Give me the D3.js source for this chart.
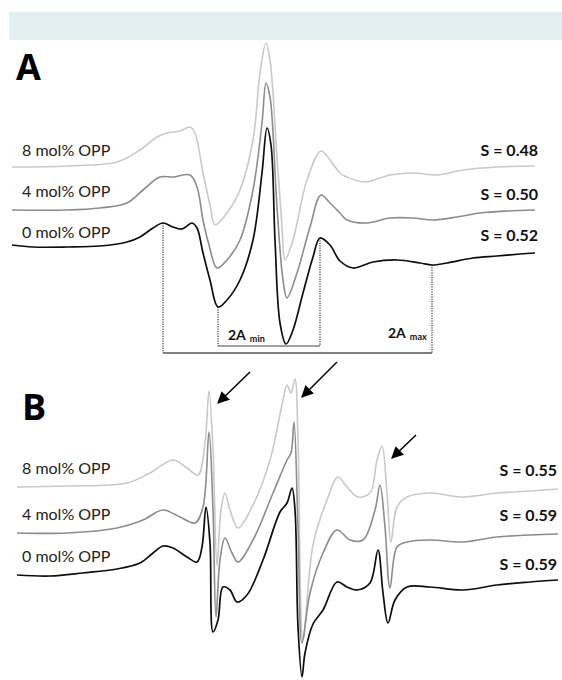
<!DOCTYPE html>
<html><head><meta charset="utf-8">
<script src="https://cdn.jsdelivr.net/npm/d3@7"></script>
<style>html,body{margin:0;padding:0;background:#fff;}svg{display:block;}</style>
</head><body>
<svg id="chart" width="562" height="680"></svg>
<script>
// ---------- DATA (field position, signal amplitude) ----------
const seriesLabels = ["8 mol% OPP", "4 mol% OPP", "0 mol% OPP"];
const orderParamA = ["S = 0.48", "S = 0.50", "S = 0.52"];
const orderParamB = ["S = 0.55", "S = 0.59", "S = 0.59"];

// Panel A spectra
const specA8 = [[12,193],[67,194],[117,198],[140,210],[157,223],[167,227],[180,229],[190,233],[195,227],[203,187],[210,155],[215,135],[227,147],[240,170],[253,220],[260,287],[266,317],[270,300],[277,203],[282,133],[285,100],[293,120],[307,180],[321,209],[330,200],[340,187],[347,183],[365,178],[390,185],[413,187],[437,185],[463,190],[497,193],[535,194]];
const specA4 = [[12,150],[67,150],[100,152],[127,157],[143,170],[160,183],[173,183],[190,185],[197,173],[203,140],[209,115],[217,92],[227,100],[240,120],[253,170],[262,237],[266,277],[270,263],[277,153],[283,80],[287,62],[297,87],[310,133],[321,165],[330,157],[340,147],[347,140],[367,137],[390,142],[413,142],[433,140],[457,143],[480,147],[507,149],[535,150]];
const specA0 = [[12,115],[33,113],[67,113],[100,114],[127,118],[140,123],[153,132],[163,137],[173,133],[182,131],[192,137],[197,132],[203,107],[210,80],[218,53],[227,60],[240,80],[253,120],[262,187],[267,232],[271,215],[275,120],[280,37],[286,16],[293,30],[303,67],[313,103],[320,122],[330,115],[340,99],[353,92],[373,98],[397,100],[420,97],[432,95],[447,97],[473,102],[497,104],[520,106],[535,107]];

// Panel B spectra
const specB8 = [[17,203],[67,204],[127,207],[150,217],[173,230],[187,222],[198,215],[205,247],[209,299],[213,240],[217,125],[221,180],[225,197],[230,180],[238,162],[253,185],[270,230],[283,290],[287,305],[291,297],[295,311],[298,250],[303,50],[313,145],[327,190],[338,213],[347,203],[358,193],[370,197],[377,230],[382,244],[387,197],[391,148],[397,183],[407,193],[430,197],[463,193],[497,197],[530,199],[558,201]];
const specB4 = [[17,157],[67,157],[117,162],[143,170],[163,180],[180,173],[195,167],[203,183],[209,258],[213,180],[216,73],[220,130],[225,152],[232,137],[238,128],[253,150],[273,197],[287,230],[291,237],[294,268],[298,163],[302,47],[310,97],[323,137],[337,160],[350,150],[363,150],[375,180],[380,205],[385,163],[390,102],[397,143],[407,148],[430,150],[463,148],[497,153],[530,155],[558,156]];
const specB0 = [[17,115],[50,114],[83,117],[117,121],[140,127],[153,137],[163,144],[173,142],[187,133],[197,128],[202,143],[206,183],[210,147],[213,58],[218,70],[223,103],[230,100],[237,88],[247,95],[263,130],[280,178],[287,187],[292,202],[295,180],[298,63],[302,13],[305,37],[313,66],[323,80],[337,108],[347,103],[357,100],[370,107],[378,140],[383,97],[388,67],[395,90],[407,103],[430,103],[463,100],[497,105],[530,108],[558,110]];

// Hyperfine splitting markers (field positions on the 0 mol% trace)
const aMaxFields = [163, 432];
const aMinFields = [218, 320];
const aMaxLevel = 7, aMinLevel = 14;
const splitLabels = [{main:"2A", sub:"min"}, {main:"2A", sub:"max"}];

// Arrows in panel B: [tailField, tailValue, tipField, tipValue]
const arrowsB = [[250,318,218,287],[337,328,302,293],[416,255,392,232]];

const colors = ["#c9c9c9", "#8c8c8c", "#0d0d0d"];

// ---------- DRAW ----------
const svg = d3.select("#chart");
svg.append("rect").attr("x",9).attr("y",12).attr("width",553).attr("height",28).attr("fill","#e2f0f4");

const x = d3.scaleLinear().domain([0, 560]).range([0, 560]);
const yA = d3.scaleLinear().domain([0, 330]).range([360, 30]);
const yB = d3.scaleLinear().domain([0, 330]).range([690, 360]);

function drawPanel(g, y, specs, labels, sLabels, labelBase, sBase, sRight, letter, letterX, letterY) {
  const line = d3.line().x(d => x(d[0])).y(d => y(d[1])).curve(d3.curveCatmullRom.alpha(0.5));
  specs.forEach((s, i) => {
    g.append("path").datum(s).attr("d", line).attr("fill","none")
      .attr("stroke", colors[i]).attr("stroke-width", i === 2 ? 1.7 : 1.6).attr("stroke-linejoin","round");
  });
  labels.forEach((t, i) => {
    g.append("text").attr("x", 22).attr("y", labelBase[i]).text(t)
      .attr("font-family","Lato, 'Open Sans', sans-serif").attr("font-size", 16).attr("fill","#222");
  });
  sLabels.forEach((t, i) => {
    g.append("text").attr("x", sRight).attr("y", sBase[i]).attr("text-anchor","end").text(t)
      .attr("font-family","Lato, 'Open Sans', sans-serif").attr("font-weight","bold").attr("font-size", 16).attr("fill","#111");
  });
  g.append("text").attr("x", letterX).attr("y", letterY).text(letter)
    .attr("font-family","'Open Sans', Lato, sans-serif").attr("font-weight","bold").attr("font-size", 36).attr("fill","#000");
}

const gA = svg.append("g");
drawPanel(gA, yA, [specA8, specA4, specA0], seriesLabels, orderParamA, [156,197,238], [156,200,241], 538, "A", 16, 80);
const gB = svg.append("g");
drawPanel(gB, yB, [specB8, specB4, specB0], seriesLabels, orderParamB, [474,520,562], [476,521,570], 557, "B", 22, 420);

// Splitting annotations on panel A
const valueAt = f => (specA0.find(d => d[0] === f) || [f, 0])[1];
aMaxFields.forEach(f => {
  gA.append("line").attr("x1", x(f)).attr("x2", x(f)).attr("y1", yA(valueAt(f))).attr("y2", yA(aMaxLevel))
    .attr("stroke","#111").attr("stroke-width",1).attr("stroke-dasharray","1.2,1.2");
});
aMinFields.forEach(f => {
  gA.append("line").attr("x1", x(f)).attr("x2", x(f)).attr("y1", yA(valueAt(f))).attr("y2", yA(aMinLevel))
    .attr("stroke","#111").attr("stroke-width",1).attr("stroke-dasharray","1.2,1.2");
});
gA.append("line").attr("x1", x(aMinFields[0])).attr("x2", x(aMinFields[1])).attr("y1", yA(aMinLevel)).attr("y2", yA(aMinLevel))
  .attr("stroke","#444").attr("stroke-width",1.2);
gA.append("line").attr("x1", x(aMaxFields[0])).attr("x2", x(aMaxFields[1])).attr("y1", yA(aMaxLevel)).attr("y2", yA(aMaxLevel))
  .attr("stroke","#555").attr("stroke-width",1.6);

function splitText(px, py, lab) {
  const t = gA.append("text").attr("x", px).attr("y", py)
    .attr("font-family","Lato, 'Open Sans', sans-serif").attr("font-weight","bold").attr("font-size", 14).attr("fill","#111");
  t.append("tspan").text(lab.main);
  t.append("tspan").attr("dx", 4).attr("dy", 2).attr("font-size", 9).text(lab.sub);
}
splitText(x(aMinFields[0]) + 10, yA(aMinLevel) - 6, splitLabels[0]);
splitText(x(aMaxFields[1]) - 44, yA(aMaxLevel) - 15, splitLabels[1]);

// Arrows in panel B
svg.append("defs").append("marker").attr("id","ah").attr("viewBox","0 0 10 10").attr("refX",9).attr("refY",5)
  .attr("markerWidth",14).attr("markerHeight",12).attr("markerUnits","userSpaceOnUse").attr("orient","auto")
  .append("path").attr("d","M0,0 L10,5 L0,10 Z").attr("fill","#000");
arrowsB.forEach(a => {
  gB.append("line").attr("x1", x(a[0])).attr("y1", yB(a[1])).attr("x2", x(a[2])).attr("y2", yB(a[3]))
    .attr("stroke","#000").attr("stroke-width",1.5).attr("marker-end","url(#ah)");
});
</script>
</body></html>
